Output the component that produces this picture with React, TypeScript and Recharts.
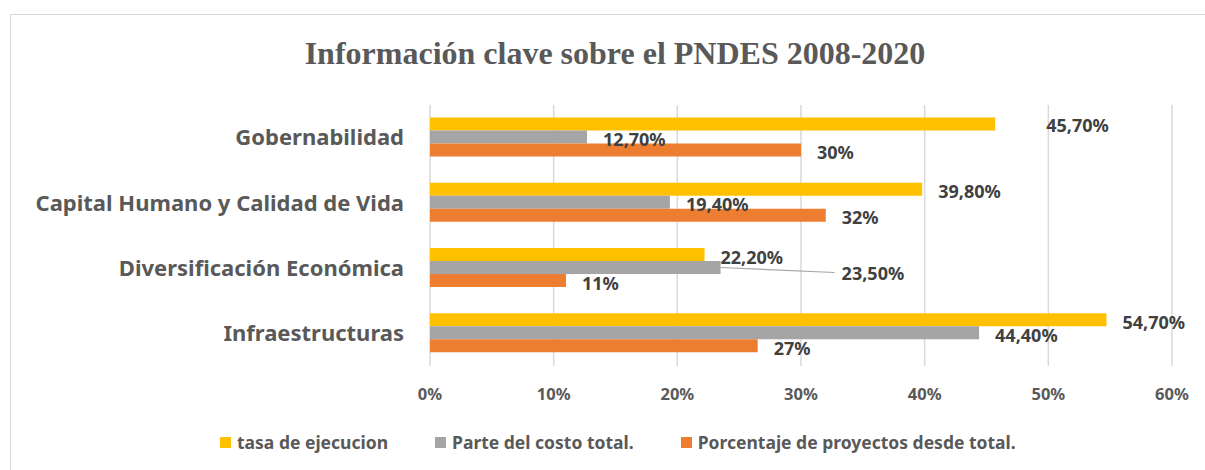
import { BarChart, Bar, XAxis, YAxis, CartesianGrid } from 'recharts';

const categories = [
  'Gobernabilidad',
  'Capital Humano y Calidad de Vida',
  'Diversificación Económica',
  'Infraestructuras',
];
const tasaEjecucion = [45.7, 39.8, 22.2, 54.7];
const parteCosto = [12.7, 19.4, 23.5, 44.4];
const porcentajeProyectos = [30, 32, 11, 26.5];
const xTicks = [0, 10, 20, 30, 40, 50, 60];

const series = [
  { key: 'tasa', name: 'tasa de ejecucion', color: '#FFC000', decimals: 2 },
  { key: 'costo', name: 'Parte del costo total.', color: '#A5A5A5', decimals: 2 },
  { key: 'proyectos', name: 'Porcentaje de proyectos desde total.', color: '#ED7D31', decimals: 0 },
];

// hand-moved labels in the original (dx, dy)
const labelNudge: Record<string, [number, number]> = {
  'tasa-0': [51, 1],
  'costo-2': [121, 5],
};

const data = categories.map((name, i) => ({
  name,
  tasa: tasaEjecucion[i],
  costo: parteCosto[i],
  proyectos: porcentajeProyectos[i],
}));

const FONT = '"Noto Sans", sans-serif';

const fmt = (v: number, decimals: number) => v.toFixed(decimals).replace('.', ',') + '%';

function makeLabel(key: string, decimals: number) {
  return (props: any) => {
    const { x, y, width, height, value, index } = props;
    const [dx, dy] = labelNudge[`${key}-${index}`] ?? [16, 2];
    const endX = Number(x) + Number(width);
    const midY = Number(y) + Number(height) / 2;
    return (
      <g>
        {dx > 60 && (
          <line x1={endX} y1={midY} x2={endX + dx - 7} y2={midY + dy} stroke="#A5A5A5" strokeWidth={1.2} />
        )}
        <text
          x={endX + dx}
          y={midY + dy}
          dominantBaseline="central"
          fontFamily={FONT}
          fontWeight={700}
          fontSize={18}
          fill="#404040"
        >
          {fmt(Number(value), decimals)}
        </text>
      </g>
    );
  };
}

function LegendRow() {
  return (
    <div
      style={{
        position: 'absolute',
        left: 209,
        top: 415,
        display: 'flex',
        alignItems: 'center',
        fontFamily: FONT,
        fontWeight: 700,
        fontSize: 17.5,
        color: '#595959',
      }}
    >
      {series.map((s) => (
        <div key={s.key} style={{ display: 'flex', alignItems: 'center', marginRight: 47 }}>
          <span style={{ width: 11, height: 11, background: s.color, marginRight: 6, display: 'inline-block' }} />
          <span>{s.name}</span>
        </div>
      ))}
    </div>
  );
}

export default function App() {
  return (
    <div
      style={{
        position: 'absolute',
        left: 10,
        top: 14,
        width: 1210,
        height: 470,
        border: '1px solid #d9d9d9',
        boxSizing: 'border-box',
        background: '#fff',
      }}
    >
      <div
        style={{
          position: 'absolute',
          top: 22,
          left: 0,
          width: '100%',
          textAlign: 'center',
          fontFamily: '"Liberation Serif", "Times New Roman", serif',
          fontWeight: 700,
          fontSize: 32,
          lineHeight: '32px',
          color: '#595959',
        }}
      >
        Información clave sobre el PNDES 2008-2020
      </div>
      <BarChart
        width={1208}
        height={468}
        data={data}
        layout="vertical"
        margin={{ top: 90, right: 47, left: 0, bottom: 77 }}
        barCategoryGap={12.5}
        barGap={0}
      >
        <CartesianGrid horizontal={false} stroke="#d9d9d9" strokeWidth={1.5} />
        <XAxis
          type="number"
          domain={[0, 60]}
          ticks={xTicks}
          tickFormatter={(v) => `${v}%`}
          axisLine={false}
          tickLine={false}
          tickSize={6}
          tickMargin={16}
          height={40}
          tick={{ fontFamily: FONT, fontWeight: 700, fontSize: 16.5, fill: '#595959' }}
        />
        <YAxis
          type="category"
          dataKey="name"
          width={419}
          axisLine={false}
          tickLine={false}
          tickSize={0}
          tickMargin={26}
          tick={{ fontFamily: FONT, fontWeight: 700, fontSize: 22, fill: '#595959' }}
        />
        {series.map((s) => (
          <Bar
            key={s.key}
            dataKey={s.key}
            name={s.name}
            fill={s.color}
            isAnimationActive={false}
            label={makeLabel(s.key, s.decimals)}
          />
        ))}
      </BarChart>
      <LegendRow />
    </div>
  );
}
